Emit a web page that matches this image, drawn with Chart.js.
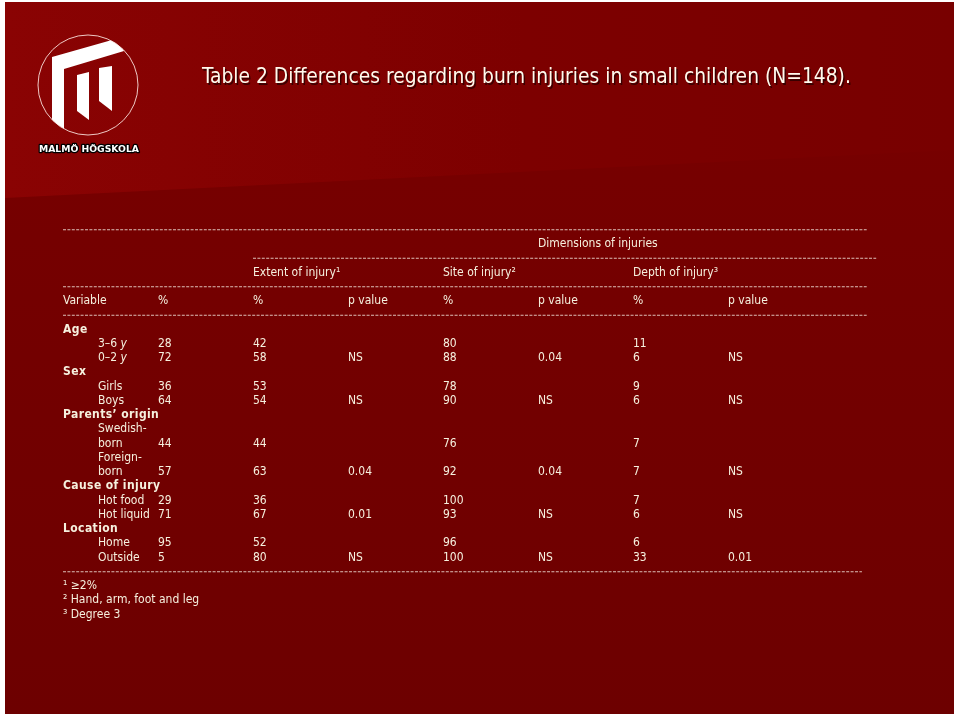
<!DOCTYPE html>
<html>
<head>
<meta charset="utf-8">
<script src="https://cdn.jsdelivr.net/npm/chart.js@4/dist/chart.umd.min.js"></script>
<style>
    html, body { margin: 0; padding: 0; background: #fff; }
    canvas { display: block; }
</style>
</head>
<body>
<canvas id="chart" width="960" height="716"></canvas>
<script>
// Datos de la tabla
const titleText = 'Table 2 Differences regarding burn injuries in small children (N=148).';
const dimensionTitle = 'Dimensions of injuries';
const dimensionNames = ['Extent of injury\u00b9', 'Site of injury\u00b2', 'Depth of injury\u00b3'];
const columnHeaders = ['Variable', '%', '%', 'p value', '%', 'p value', '%', 'p value'];

const groupNames = ['Age', 'Sex', 'Parents\u2019 origin', 'Cause of injury', 'Location'];
const groupSizes = [2, 2, 2, 2, 2];
const variables = ['3\u20136 y', '0\u20132 y', 'Girls', 'Boys', 'Swedish-\nborn', 'Foreign-\nborn',
    'Hot food', 'Hot liquid', 'Home', 'Outside'];

const totalPct  = [28, 72, 36, 64, 44, 57, 29, 71, 95, 5];
const extentPct = [42, 58, 53, 54, 44, 63, 36, 67, 52, 80];
const extentP   = ['', 'NS', '', 'NS', '', '0.04', '', '0.01', '', 'NS'];
const sitePct   = [80, 88, 78, 90, 76, 92, 100, 93, 96, 100];
const siteP     = ['', '0.04', '', 'NS', '', '0.04', '', 'NS', '', 'NS'];
const depthPct  = [11, 6, 9, 6, 7, 7, 7, 6, 6, 33];
const depthP    = ['', 'NS', '', 'NS', '', 'NS', '', 'NS', '', '0.01'];

const footnotes = ['\u00b9 \u22652%', '\u00b2 Hand, arm, foot and leg', '\u00b3 Degree 3'];

document.addEventListener('DOMContentLoaded', function() {
    const chartElement = document.getElementById('chart');
    const ctx = chartElement.getContext('2d');

    const FONT = '"DejaVu Sans Condensed", "DejaVu Sans", Verdana, sans-serif';
    const TEXT_COLOR = '#f6f0de';
    const RULE_COLOR = 'rgba(240, 225, 215, 0.85)';
    const INDENT = 35;

    // Filas de texto de la tabla (x = columna, y = fila)
    const headerCells = [{ x: 5, y: 0, text: dimensionTitle }];
    dimensionNames.forEach((name, i) => headerCells.push({ x: 2 + i * 2, y: 2, text: name }));
    columnHeaders.forEach((name, i) => headerCells.push({ x: i, y: 4, text: name }));

    const groupCells = [];
    const itemCells = [];
    const valueCells = [];
    const valueColumns = [totalPct, extentPct, extentP, sitePct, siteP, depthPct, depthP];

    let row = 6;
    let idx = 0;
    groupNames.forEach((group, g) => {
        groupCells.push({ x: 0, y: row, text: group });
        row++;
        for (let k = 0; k < groupSizes[g]; k++) {
            const lines = variables[idx].split('\n');
            lines.forEach((line, i) => itemCells.push({ x: 0, y: row + i, text: line }));
            const valueRow = row + lines.length - 1;
            valueColumns.forEach((col, c) => {
                if (col[idx] !== '') {
                    valueCells.push({ x: c + 1, y: valueRow, text: String(col[idx]),
                        after: c === 0 ? lines[lines.length - 1] : null });
                }
            });
            row += lines.length;
            idx++;
        }
    });
    const bottomRule = row;
    const footCells = footnotes.map((f, i) => ({ x: 0, y: row + 1 + i, text: f }));

    function rule(y, from, to) {
        return {
            type: 'scatter',
            data: [{ x: from, y: y }, { x: to, y: y }],
            showLine: true,
            clip: false,
            borderColor: RULE_COLOR,
            borderWidth: 1,
            borderDash: [3, 1.4],
            pointRadius: 0
        };
    }

    function textSet(data, style) {
        return { type: 'scatter', data: data, pointRadius: 0, showLine: false, clip: false, textStyle: style };
    }

    // Fondo de la diapositiva y logotipo
    const backgroundPlugin = {
        id: 'slideBackground',
        beforeDraw(chart) {
            const c = chart.ctx;
            c.save();
            c.fillStyle = '#ffffff';
            c.fillRect(0, 0, 960, 716);
            let g = c.createLinearGradient(0, 0, 0, 714);
            g.addColorStop(0, '#790000');
            g.addColorStop(1, '#6d0000');
            c.fillStyle = g;
            c.fillRect(5, 2, 949, 712);

            g = c.createLinearGradient(5, 0, 954, 0);
            g.addColorStop(0, '#8a0303');
            g.addColorStop(0.55, '#7d0000');
            g.addColorStop(1, '#780000');
            c.fillStyle = g;
            c.beginPath();
            c.moveTo(5, 2);
            c.lineTo(954, 2);
            c.lineTo(954, 150);
            c.lineTo(5, 198);
            c.closePath();
            c.fill();

            // Logotipo
            c.save();
            c.beginPath();
            c.arc(88, 85, 50, 0, Math.PI * 2);
            c.clip();
            c.fillStyle = '#ffffff';
            const shapes = [
                [[52, 57], [119, 38], [124, 51], [64, 69], [64, 140], [52, 140]],
                [[77, 75], [89, 72], [89, 120], [77, 111]],
                [[99, 68], [112, 66], [112, 111], [99, 101]]
            ];
            shapes.forEach(s => {
                c.beginPath();
                c.moveTo(s[0][0], s[0][1]);
                s.slice(1).forEach(p => c.lineTo(p[0], p[1]));
                c.closePath();
                c.fill();
            });
            c.restore();
            c.strokeStyle = 'rgba(255, 235, 230, 0.85)';
            c.lineWidth = 1;
            c.beginPath();
            c.arc(88, 85, 50, 0, Math.PI * 2);
            c.stroke();

            c.font = 'bold 9px "DejaVu Sans", sans-serif';
            c.textBaseline = 'middle';
            const brand = 'MALM\u00d6 H\u00d6GSKOLA';
            const w = c.measureText(brand).width;
            c.translate(39, 150);
            c.scale(100 / w, 1);
            c.lineJoin = 'round';
            c.strokeStyle = '#000';
            c.lineWidth = 2.5;
            c.strokeText(brand, 0, 0);
            c.fillStyle = '#fff';
            c.fillText(brand, 0, 0);
            c.restore();

            // Título
            c.save();
            let size = 22;
            c.font = size + 'px ' + FONT;
            size = size * 649 / c.measureText(titleText).width;
            c.font = size.toFixed(2) + 'px ' + FONT;
            c.textBaseline = 'middle';
            c.fillStyle = 'rgba(40, 0, 0, 0.8)';
            c.fillText(titleText, 203.5, 79.5);
            c.fillStyle = '#fffbee';
            c.fillText(titleText, 202, 78);
            c.restore();
        }
    };

    // Texto de las celdas dibujado en la posición de cada punto
    const cellTextPlugin = {
        id: 'cellText',
        afterDatasetsDraw(chart) {
            const c = chart.ctx;
            c.save();
            c.textBaseline = 'middle';
            c.fillStyle = TEXT_COLOR;
            chart.data.datasets.forEach((ds, i) => {
                if (!ds.textStyle) return;
                const meta = chart.getDatasetMeta(i);
                meta.data.forEach((el, j) => {
                    const d = ds.data[j];
                    let x = el.x;
                    const normal = '12px ' + FONT;
                    if (ds.textStyle === 'group') {
                        c.font = 'bold 12px ' + FONT;
                        if ('letterSpacing' in c) c.letterSpacing = '0.4px';
                        c.fillText(d.text, x, el.y);
                        if ('letterSpacing' in c) c.letterSpacing = '0px';
                        return;
                    }
                    c.font = normal;
                    if (ds.textStyle === 'item') {
                        x += INDENT;
                        const m = d.text.match(/^(.*\s)y$/);
                        if (m) {
                            c.fillText(m[1], x, el.y);
                            const w = c.measureText(m[1]).width;
                            c.font = 'italic 12px ' + FONT;
                            c.fillText('y', x + w, el.y);
                            return;
                        }
                    }
                    if (d.after) {
                        const start = chart.scales.x.getPixelForValue(0) + INDENT;
                        x = Math.max(x, start + c.measureText(d.after + ' ').width);
                    }
                    c.fillText(d.text, x, el.y);
                });
            });
            c.restore();
        }
    };

    window.myChart = new Chart(ctx, {
        type: 'scatter',
        data: {
            datasets: [
                rule(-1, 0, 8.46),
                rule(1, 2, 8.56),
                rule(3, 0, 8.46),
                rule(5, 0, 8.46),
                rule(bottomRule, 0, 8.41),
                textSet(headerCells, 'cell'),
                textSet(groupCells, 'group'),
                textSet(itemCells, 'item'),
                textSet(valueCells, 'cell'),
                textSet(footCells, 'cell')
            ]
        },
        options: {
            responsive: false,
            animation: false,
            events: [],
            layout: { padding: { left: 63, right: 137, top: 229.75, bottom: 101.5 } },
            plugins: {
                legend: { display: false },
                tooltip: { enabled: false },
                title: { display: false }
            },
            scales: {
                x: { type: 'linear', min: 0, max: 8, display: false },
                y: { type: 'linear', min: -1, max: 26, reverse: true, display: false }
            }
        },
        plugins: [backgroundPlugin, cellTextPlugin]
    });
});
</script>
</body>
</html>
